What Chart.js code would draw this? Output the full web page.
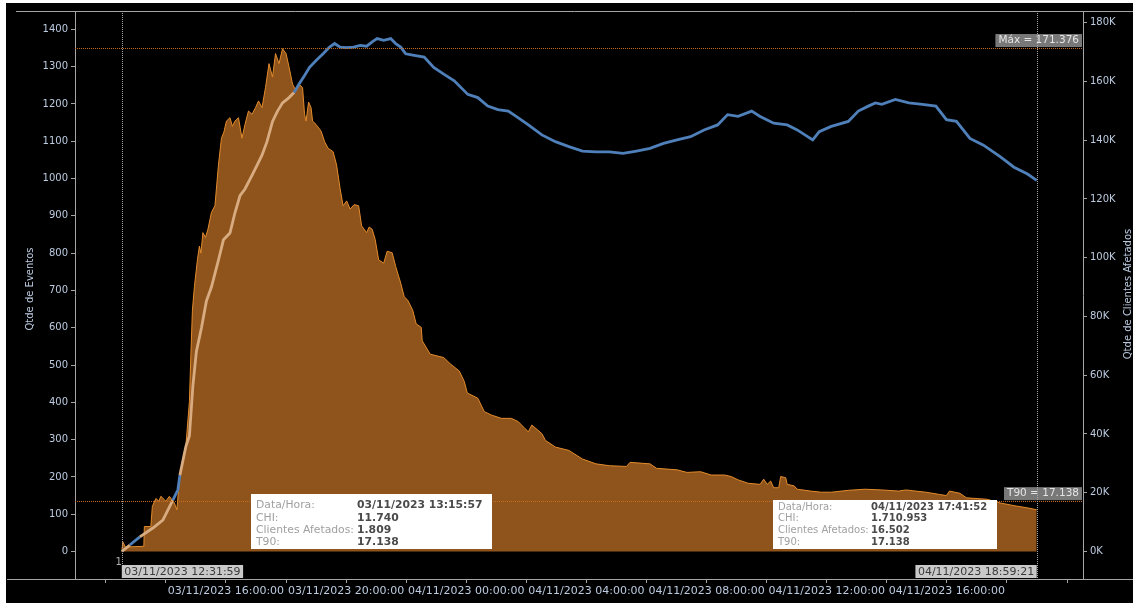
<!DOCTYPE html>
<html><head><meta charset="utf-8">
<script src="https://cdn.jsdelivr.net/npm/chart.js@4.4.0/dist/chart.umd.min.js"></script>
<style>html,body{margin:0;padding:0;background:#000;overflow:hidden}canvas{display:block}</style>
</head><body>
<canvas id="c" width="1133" height="603"></canvas>
<script>
// ---- Qtde de Eventos (eixo esquerdo) ----
const eventosHora = ['03/11 12:32','03/11 12:34','03/11 12:39','03/11 13:16','03/11 13:17','03/11 13:30','03/11 13:33','03/11 13:40','03/11 13:46','03/11 13:50','03/11 14:00','03/11 14:07','03/11 14:17','03/11 14:22','03/11 14:27','03/11 14:34','03/11 14:40','03/11 14:47','03/11 14:50','03/11 14:53','03/11 14:57','03/11 15:03','03/11 15:07','03/11 15:10','03/11 15:14','03/11 15:19','03/11 15:24','03/11 15:31','03/11 15:38','03/11 15:45','03/11 15:51','03/11 15:56','03/11 16:01','03/11 16:08','03/11 16:13','03/11 16:18','03/11 16:25','03/11 16:32','03/11 16:38','03/11 16:45','03/11 16:52','03/11 16:59','03/11 17:05','03/11 17:12','03/11 17:19','03/11 17:26','03/11 17:33','03/11 17:39','03/11 17:46','03/11 17:53','03/11 18:00','03/11 18:06','03/11 18:13','03/11 18:20','03/11 18:26','03/11 18:33','03/11 18:37','03/11 18:40','03/11 18:45','03/11 18:50','03/11 18:53','03/11 19:00','03/11 19:10','03/11 19:17','03/11 19:24','03/11 19:34','03/11 19:41','03/11 19:48','03/11 19:54','03/11 20:01','03/11 20:08','03/11 20:16','03/11 20:25','03/11 20:31','03/11 20:41','03/11 20:46','03/11 20:52','03/11 20:58','03/11 21:05','03/11 21:15','03/11 21:22','03/11 21:32','03/11 21:39','03/11 21:49','03/11 21:56','03/11 22:03','03/11 22:13','03/11 22:20','03/11 22:30','03/11 22:32','03/11 22:48','03/11 23:15','03/11 23:29','03/11 23:46','03/11 23:56','04/11 00:02','04/11 00:23','04/11 00:36','04/11 00:50','04/11 01:10','04/11 01:30','04/11 01:44','04/11 01:57','04/11 02:04','04/11 02:11','04/11 02:31','04/11 02:38','04/11 02:58','04/11 03:25','04/11 03:52','04/11 04:19','04/11 04:46','04/11 05:20','04/11 05:27','04/11 06:07','04/11 06:20','04/11 07:01','04/11 07:21','04/11 07:48','04/11 08:09','04/11 08:36','04/11 08:49','04/11 09:03','04/11 09:23','04/11 09:47','04/11 09:54','04/11 10:01','04/11 10:08','04/11 10:14','04/11 10:24','04/11 10:28','04/11 10:38','04/11 10:41','04/11 10:55','04/11 11:01','04/11 11:28','04/11 11:49','04/11 12:09','04/11 12:43','04/11 13:16','04/11 13:50','04/11 14:24','04/11 14:38','04/11 15:18','04/11 15:45','04/11 15:59','04/11 16:05','04/11 16:26','04/11 16:39','04/11 17:20','04/11 17:47','04/11 18:14','04/11 18:41','04/11 18:59:21'];
const eventosQtd = [0,26,12,14,67,67,121,142,135,148,135,148,130,112,194,248,284,402,529,647,710,782,819,800,855,842,864,909,927,1036,1108,1125,1154,1163,1140,1154,1163,1108,1145,1181,1172,1190,1208,1190,1244,1308,1272,1335,1308,1348,1335,1299,1253,1235,1253,1244,1172,1154,1205,1190,1154,1145,1127,1099,1081,1072,1036,973,927,940,918,930,927,873,855,870,864,837,782,773,805,801,764,720,683,674,647,610,601,565,529,520,502,484,456,425,411,375,366,357,357,348,330,321,339,316,298,280,271,248,235,230,228,239,235,223,219,212,214,205,205,201,192,183,180,194,180,189,171,171,201,198,180,176,167,162,159,159,164,167,165,162,165,159,153,150,162,156,144,140,130,123,117,112];

// ---- Qtde de Clientes Afetados (eixo direito, milhares) ----
const clientesHora = ['03/11 12:32','03/11 12:48','03/11 13:08','03/11 13:34','03/11 13:54','03/11 14:14','03/11 14:24','03/11 14:28','03/11 14:40','03/11 14:47','03/11 14:54','03/11 15:01','03/11 15:11','03/11 15:21','03/11 15:31','03/11 15:45','03/11 15:55','03/11 16:08','03/11 16:18','03/11 16:28','03/11 16:38','03/11 16:52','03/11 17:02','03/11 17:12','03/11 17:22','03/11 17:33','03/11 17:43','03/11 17:53','03/11 18:06','03/11 18:16','03/11 18:26','03/11 18:37','03/11 18:47','03/11 19:00','03/11 19:14','03/11 19:27','03/11 19:37','03/11 19:48','03/11 20:01','03/11 20:15','03/11 20:28','03/11 20:41','03/11 20:52','03/11 21:02','03/11 21:15','03/11 21:29','03/11 21:39','03/11 21:49','03/11 21:59','03/11 22:16','03/11 22:36','03/11 22:55','03/11 23:15','03/11 23:36','04/11 00:03','04/11 00:23','04/11 00:43','04/11 01:03','04/11 01:24','04/11 01:44','04/11 02:04','04/11 02:31','04/11 02:58','04/11 03:25','04/11 03:52','04/11 04:19','04/11 04:46','04/11 05:13','04/11 05:40','04/11 06:07','04/11 06:34','04/11 07:01','04/11 07:28','04/11 07:55','04/11 08:22','04/11 08:42','04/11 09:03','04/11 09:30','04/11 09:47','04/11 10:14','04/11 10:41','04/11 11:01','04/11 11:32','04/11 11:45','04/11 12:09','04/11 12:43','04/11 13:03','04/11 13:23','04/11 13:37','04/11 13:50','04/11 14:17','04/11 14:44','04/11 15:11','04/11 15:38','04/11 15:59','04/11 16:19','04/11 16:46','04/11 17:13','04/11 17:47','04/11 18:14','04/11 18:41','04/11 18:59:21'];
const clientesMil = [0,2.2,5.0,8.0,10.7,17.5,21,26,35.8,39.3,56.5,68.1,76.1,85.3,90,99.2,106.1,108.4,115.3,121.1,123.4,128,131.4,134.9,139.5,146.4,149.9,152.7,154.5,156.2,159.1,162,164.8,167.1,169.4,171.7,172.9,171.7,171.5,171.7,172.3,172,173.5,174.6,174,174.6,172.9,171.7,169.4,168.9,168.3,164.8,162.5,160.2,155.6,154.5,151.6,150.4,149.9,147.6,145.2,141.8,139.5,137.8,136.3,136,136,135.5,136.3,137.2,138.9,140.1,141.2,143.5,145.2,148.7,148.1,149.9,148.1,145.8,145.2,143.5,140.1,142.9,144.7,146.4,149.9,151.6,152.7,152.2,153.9,152.7,152.2,151.6,147,146.4,140.6,138.3,134.3,130.8,128.5,126.3];

// ---- eixos ----
const ticksEsquerda = [0,100,200,300,400,500,600,700,800,900,1000,1100,1200,1300,1400];
const ticksDireita = [0,20,40,60,80,100,120,140,160,180];
const ticksX = ['03/11 12:00','03/11 14:00','03/11 16:00','03/11 18:00','03/11 20:00','03/11 22:00','04/11 00:00','04/11 02:00','04/11 04:00','04/11 06:00','04/11 08:00','04/11 10:00','04/11 12:00','04/11 14:00','04/11 16:00','04/11 18:00','04/11 20:00'];
const rotulosX = ['03/11 16:00','03/11 20:00','04/11 00:00','04/11 04:00','04/11 08:00','04/11 12:00','04/11 16:00'];

// ---- anotações ----
const inicioTexto = '03/11/2023 12:31:59', fimTexto = '04/11/2023 18:59:21';
const inicioHora = '03/11 12:31:59', fimHora = '04/11 18:59:21';
const maxClientesMil = 171.376, maxTexto = 'Máx = 171.376';
const t90Mil = 17.138, t90Texto = 'T90 = 17.138';
const tipRotulos = ['Data/Hora:','CHI:','Clientes Afetados:','T90:'];
const tip1Valores = ['03/11/2023 13:15:57','11.740','1.809','17.138'];
const tip2Valores = ['04/11/2023 17:41:52','1.710.953','16.502','17.138'];

function toMin(s){ const [d,hm]=s.split(' '); const p=hm.split(':').map(Number); return (d==='04/11'?1440:0)+p[0]*60+p[1]+(p[2]||0)/60; }
const evT = eventosHora.map(toMin);
const evData = evT.map((t,i)=>({x:t,y:eventosQtd[i]}));
const clData = clientesHora.map((t,i)=>({x:toMin(t),y:clientesMil[i]}));
function orangeAt(t){ if(t<evT[0]||t>evT[evT.length-1]) return null; for(let i=1;i<evT.length;i++){ if(evT[i]>=t){ const f=(t-evT[i-1])/((evT[i]-evT[i-1])||1); return eventosQtd[i-1]+f*(eventosQtd[i]-eventosQtd[i-1]); } } return null; }

const FONT='DejaVu Sans';
const BLUE='#4F80BA', BEIGE='#D8AC80', LBL='#BCCBE0', AXIS='#A6A6A6';
function fmtX(v){ const day=v>=1440?'04':'03'; const h=Math.round((v%1440)/60); return day+'/11/2023 '+String(h).padStart(2,'0')+':00:00'; }
const rotMin = rotulosX.map(toMin);

const deco = {
  id:'deco',
  beforeDraw(c){ const g=c.ctx; g.save(); g.fillStyle='#000'; g.fillRect(0,0,c.width,c.height); g.fillStyle='#fff'; g.fillRect(0,0,c.width,3); g.fillRect(0,0,6,c.height); g.restore(); },
  afterDraw(c){
    const g=c.ctx, a=c.chartArea, xs=c.scales.x, yr=c.scales.yR;
    g.save();
    g.strokeStyle=AXIS; g.lineWidth=1;
    g.beginPath(); g.moveTo(16,a.top+0.5); g.lineTo(c.width,a.top+0.5); g.stroke();
    g.beginPath(); g.moveTo(7,a.bottom+0.5); g.lineTo(c.width,a.bottom+0.5); g.stroke();
    g.strokeStyle='rgba(205,110,25,0.95)'; g.setLineDash([1,1]);
    [maxClientesMil,t90Mil].forEach(v=>{ const y=Math.round(yr.getPixelForValue(v))+0.5; g.beginPath(); g.moveTo(a.left,y); g.lineTo(a.right,y); g.stroke(); });
    g.setLineDash([]);
    g.font='10.5px "'+FONT+'"'; g.textBaseline='middle'; g.textAlign='right';
    [[maxClientesMil,maxTexto],[t90Mil,t90Texto]].forEach(([v,t])=>{ const y=yr.getPixelForValue(v); const w=g.measureText(t).width+6; g.fillStyle='rgba(150,150,150,0.8)'; g.fillRect(a.right-w-1,y-14,w,13); g.fillStyle='#E4E4E4'; g.fillText(t,a.right-4,y-7.5); });
    g.strokeStyle='#A8A8A8'; g.setLineDash([1,1]);
    [inicioHora,fimHora].forEach(s=>{ const x=Math.round(xs.getPixelForValue(toMin(s)))+0.5; g.beginPath(); g.moveTo(x,a.top); g.lineTo(x,a.bottom); g.stroke(); });
    g.setLineDash([]);
    g.font='11px "'+FONT+'"'; g.textAlign='left';
    const xi=xs.getPixelForValue(toMin(inicioHora)), xf=xs.getPixelForValue(toMin(fimHora));
    let w=g.measureText(inicioTexto).width+5;
    g.fillStyle='#C9C9C9'; g.fillRect(xi,565,w,13); g.fillStyle='#3A3A3A'; g.fillText(inicioTexto,xi+2.5,572);
    w=g.measureText(fimTexto).width+5;
    g.fillStyle='#C9C9C9'; g.fillRect(xf-w,565,w,13); g.fillStyle='#3A3A3A'; g.fillText(fimTexto,xf-w+2.5,572);
    g.font='10px "'+FONT+'"'; g.fillStyle='#B0B0B0'; g.textAlign='right'; g.fillText('1',xi,562);
    function tip(x,y,wd,ht,ly,vx,vals,fs,step){
      g.fillStyle='#FFFFFF'; g.fillRect(x,y,wd,ht);
      g.textAlign='left'; g.textBaseline='middle';
      tipRotulos.forEach((r,i)=>{ g.font=fs+'px "'+FONT+'"'; g.fillStyle='#A0A0A0'; g.fillText(r,x+5,ly+i*step);
        g.font='bold '+fs+'px "'+FONT+'"'; g.fillStyle='#4A4A4A'; g.fillText(vals[i],vx,ly+i*step); });
    }
    tip(251,494,241,55,505.5,357,tip1Valores,10.8,12.3);
    tip(773,500,224,49,507,871,tip2Valores,10,11.9);
    g.font='10px "'+FONT+'"'; g.fillStyle=LBL; g.textAlign='center'; g.textBaseline='middle';
    g.save(); g.translate(30,289); g.rotate(-Math.PI/2); g.fillText('Qtde de Eventos',0,0); g.restore();
    g.save(); g.translate(1128,294); g.rotate(-Math.PI/2); g.fillText('Qtde de Clientes Afetados',0,0); g.restore();
    g.restore();
  }
};

new Chart(document.getElementById('c'), {
  type:'line',
  data:{ datasets:[
    { label:'Qtde de Clientes Afetados', data:clData, yAxisID:'yR', borderColor:BLUE, borderWidth:2.8, pointRadius:0, fill:false, tension:0, order:0,
      segment:{ borderColor: ctx=>{ const c=ctx.chart; const xs=c.scales.x, yl=c.scales.yL; const mx=(ctx.p0.x+ctx.p1.x)/2, my=(ctx.p0.y+ctx.p1.y)/2; const v=orangeAt(xs.getValueForPixel(mx)); if(v==null) return BLUE; return my>yl.getPixelForValue(v)+1?BEIGE:BLUE; } } },
    { label:'Qtde de Eventos', data:evData, yAxisID:'yL', borderColor:'#E38B2C', borderWidth:1, backgroundColor:'#8F541C', pointRadius:0, fill:{value:0}, tension:0, order:1 }
  ]},
  options:{
    responsive:false, animation:false, events:[],
    layout:{ padding:{ top:11, left:0, right:0, bottom:0 } },
    plugins:{ legend:{display:false}, tooltip:{enabled:false}, title:{display:false} },
    scales:{
      x:{ type:'linear', position:'bottom', min:658.5, max:2671.8,
        afterBuildTicks: s=>{ s.ticks = ticksX.map(t=>({value:toMin(t)})); },
        afterFit: s=>{ s.height=24; },
        ticks:{ autoSkip:false, maxRotation:0, padding:2, color:LBL, font:{family:FONT,size:11},
          callback: v=> rotMin.includes(v)?fmtX(v):'' },
        grid:{ drawOnChartArea:false, tickLength:4, color:AXIS }, border:{ color:AXIS } },
      yL:{ type:'linear', position:'left', min:-73.7, max:1449.1,
        afterBuildTicks: s=>{ s.ticks = ticksEsquerda.map(v=>({value:v})); },
        afterFit: s=>{ s.width=75; },
        ticks:{ padding:3, color:LBL, font:{family:FONT,size:10}, callback:v=>String(v) },
        grid:{ drawOnChartArea:false, tickLength:4, color:AXIS }, border:{ color:AXIS } },
      yR:{ type:'linear', position:'right', min:-9.36, max:183.98,
        afterBuildTicks: s=>{ s.ticks = ticksDireita.map(v=>({value:v})); },
        afterFit: s=>{ s.width=50; },
        ticks:{ padding:3, color:LBL, font:{family:FONT,size:10}, callback:v=>v+'K' },
        grid:{ drawOnChartArea:false, tickLength:4, color:AXIS }, border:{ color:AXIS } }
    }
  },
  plugins:[deco]
});
</script>
</body></html>
